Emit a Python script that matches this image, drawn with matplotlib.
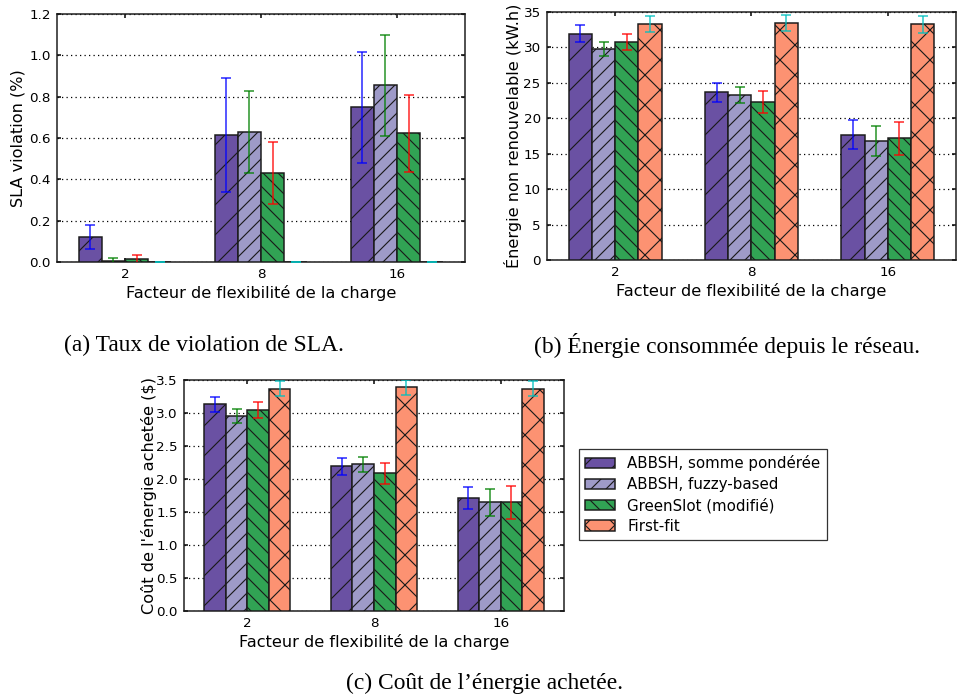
import matplotlib
matplotlib.use("Agg")
import matplotlib.pyplot as plt
import numpy as np

# ---------------- data ----------------
factors = ["2", "8", "16"]
series = ["ABBSH, somme pondérée", "ABBSH, fuzzy-based", "GreenSlot (modifié)", "First-fit"]

sla_mean = [
    [0.119, 0.613, 0.748],   # ABBSH somme
    [0.005, 0.629, 0.855],   # ABBSH fuzzy
    [0.013, 0.432, 0.623],   # GreenSlot
    [0.0, 0.0, 0.0],         # First-fit
]
sla_err = [
    [0.058, 0.276, 0.270],
    [0.016, 0.197, 0.245],
    [0.022, 0.150, 0.187],
    [0.0, 0.0, 0.0],
]

energy_mean = [
    [31.95, 23.65, 17.7],
    [29.8, 23.3, 16.8],
    [30.8, 22.3, 17.15],
    [33.3, 33.45, 33.25],
]
energy_err = [
    [1.2, 1.4, 2.0],
    [1.0, 1.15, 2.1],
    [1.15, 1.6, 2.3],
    [1.15, 1.1, 1.15],
]

cost_mean = [
    [3.13, 2.19, 1.71],
    [2.95, 2.22, 1.645],
    [3.045, 2.085, 1.65],
    [3.37, 3.39, 3.37],
]
cost_err = [
    [0.12, 0.13, 0.165],
    [0.105, 0.12, 0.2],
    [0.12, 0.16, 0.25],
    [0.115, 0.115, 0.115],
]

xlabel = "Facteur de flexibilité de la charge"
ylabels = ["SLA violation (%)", "Énergie non renouvelable (kW.h)", "Coût de l'énergie achetée ($)"]
captions = ["(a) Taux de violation de SLA.", "(b) Énergie consommée depuis le réseau.",
            "(c) Coût de l’énergie achetée."]

# ---------------- style ----------------
bar_colors = ["#6a51a3", "#9e9ac8", "#31a354", "#fc9272"]
hatches = ["//", "////", "\\\\\\\\", "xx"]
err_colors = ["#0000ff", "#008000", "#ff0000", "#00bfbf"]

DPI = 180
W, H = 967, 700
plt.rcParams.update({
    "font.family": ["DejaVu Sans"],
    "hatch.linewidth": 0.45,
    "axes.linewidth": 0.6,
    "xtick.direction": "in",
    "ytick.direction": "in",
    "xtick.top": True,
    "ytick.right": True,
    "xtick.major.size": 1.6,
    "ytick.major.size": 1.6,
    "xtick.major.width": 0.6,
    "ytick.major.width": 0.6,
    "xtick.labelsize": 5.4,
    "ytick.labelsize": 5.4,
    "axes.labelsize": 6.45,
    "xtick.major.pad": 2.5,
    "ytick.major.pad": 2.5,
})

fig = plt.figure(figsize=(W / DPI, H / DPI), dpi=DPI)
fig.patch.set_facecolor("white")


def rect(l, r, t, b):
    return [l / W, 1 - b / H, (r - l) / W, (b - t) / H]


axes_rects = [rect(57, 465, 14, 262), rect(547, 956, 12, 260), rect(184, 564, 380, 611)]
ylims = [(0, 1.2), (0, 35), (0, 3.5)]
yticks = [np.arange(0, 1.21, 0.2), np.arange(0, 35.1, 5), np.arange(0, 3.51, 0.5)]
yfmt = ["{:.1f}", "{:.0f}", "{:.1f}"]
means = [sla_mean, energy_mean, cost_mean]
errs = [sla_err, energy_err, cost_err]
ylabel_x = [-0.077, -0.061, -0.072]

width = 0.17
x = np.arange(len(factors))
handles = []
for k in range(3):
    ax = fig.add_axes(axes_rects[k])
    for i in range(4):
        b = ax.bar(x + (i - 1.5) * width, means[k][i], width, align="center",
                   color=bar_colors[i], edgecolor="0.1", linewidth=0.6, hatch=hatches[i],
                   yerr=errs[k][i], label=series[i], zorder=3,
                   error_kw=dict(ecolor=err_colors[i], elinewidth=0.65, capsize=2.0,
                                 capthick=0.65, alpha=0.8, zorder=4))
        if k == 2:
            handles.append(b)
    ax.set_xlim(-0.5, 2.5)
    ax.set_ylim(*ylims[k])
    ax.set_xticks(x)
    ax.set_xticklabels(factors)
    ax.set_yticks(yticks[k])
    ax.set_yticklabels([yfmt[k].format(v) for v in yticks[k]])
    ax.yaxis.grid(True, color="black", linestyle=(0, (1, 2.6)), linewidth=0.5, zorder=0)
    ax.set_axisbelow(True)
    ax.set_xlabel(xlabel, labelpad=1.5)
    ax.set_ylabel(ylabels[k])
    ax.yaxis.set_label_coords(ylabel_x[k], 0.5)
    for s in ax.spines.values():
        s.set_color("0.1")

leg = fig.legend(handles, series, loc="upper left", bbox_to_anchor=(579 / W, 1 - 449 / H),
                 borderaxespad=0, fontsize=6.0, frameon=True, fancybox=False,
                 handlelength=2.0, labelspacing=0.38, borderpad=0.42, handletextpad=0.8)
leg.get_frame().set_edgecolor("black")
leg.get_frame().set_linewidth(0.5)

cap_font = dict(family=["Liberation Serif", "DejaVu Serif"], fontsize=9.4, ha="center", va="center")
fig.text(204 / W, 1 - 345 / H, captions[0], **cap_font)
fig.text(727 / W, 1 - 345 / H, captions[1], **cap_font)
fig.text(485 / W, 1 - 683 / H, captions[2], **cap_font)

fig.savefig("out.png", dpi=DPI, facecolor="white")
